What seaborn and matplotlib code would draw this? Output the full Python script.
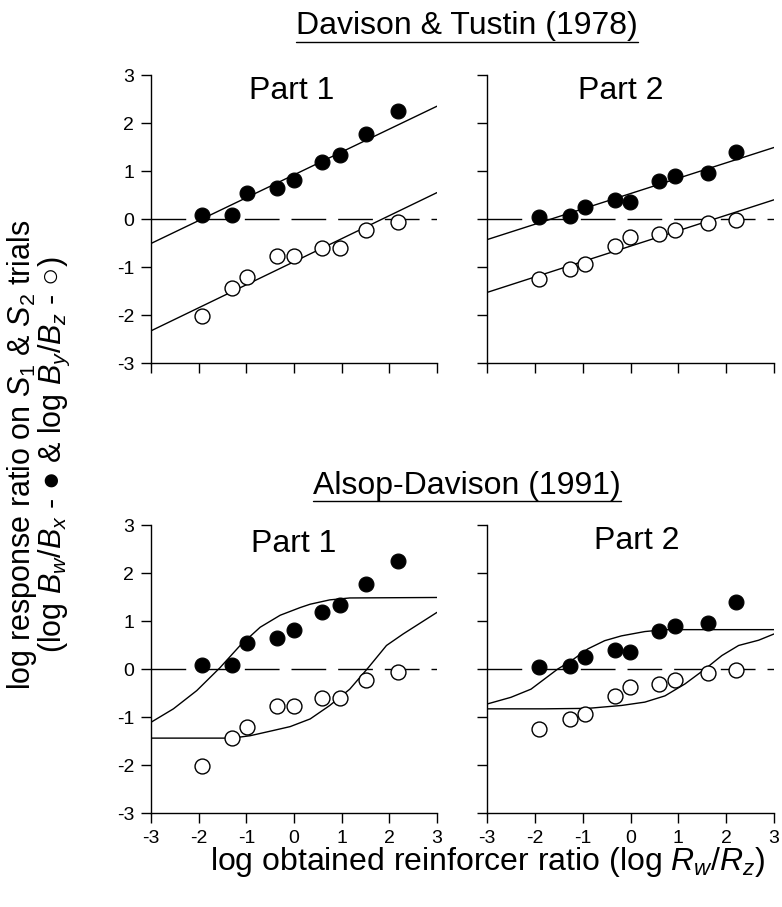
import numpy as np
import pandas as pd
import matplotlib.pyplot as plt
import seaborn as sns
from matplotlib.lines import Line2D

# Obtained reinforcer ratios (x) for each part
part1_x = [-1.92, -1.30, -0.99, -0.35, -0.01, 0.59, 0.96, 1.50, 2.19]
part2_x = [-1.92, -1.27, -0.96, -0.33, -0.02, 0.60, 0.94, 1.62, 2.20]

# Response ratios: filled = log Bw/Bx, open = log By/Bz
part1_filled = [0.08, 0.08, 0.55, 0.64, 0.81, 1.19, 1.34, 1.78, 2.24]
part1_open = [-2.03, -1.43, -1.20, -0.78, -0.78, -0.60, -0.61, -0.22, -0.07]
part2_filled = [0.05, 0.07, 0.26, 0.40, 0.36, 0.80, 0.90, 0.95, 1.40]
part2_open = [-1.25, -1.05, -0.94, -0.56, -0.37, -0.32, -0.22, -0.09, -0.02]

# Davison & Tustin (1978) fitted lines, end points
dt_x = [-3, 3]
dt_p1_filled = [-0.51, 2.35]
dt_p1_open = [-2.33, 0.55]
dt_p2_filled = [-0.43, 1.49]
dt_p2_open = [-1.53, 0.40]

# Alsop-Davison (1991) model curves
ad_p1_filled_x = [-3.0, -2.53, -2.04, -1.55, -1.13, -0.71, -0.29, 0.13, 0.34, 0.75, 1.17, 3.0]
ad_p1_filled_y = [-1.11, -0.83, -0.45, 0.03, 0.49, 0.87, 1.12, 1.28, 1.35, 1.44, 1.48, 1.49]
ad_p1_open_x = [-3.0, -1.30, -0.92, -0.43, -0.08, 0.34, 0.75, 1.17, 1.56, 1.94, 2.29, 3.0]
ad_p1_open_y = [-1.44, -1.44, -1.39, -1.28, -1.20, -1.04, -0.76, -0.42, 0.03, 0.49, 0.73, 1.18]
ad_p2_filled_x = [-3.0, -2.5, -2.08, -1.8, -1.52, -1.24, -0.89, -0.54, -0.19, 0.30, 0.72, 3.0]
ad_p2_filled_y = [-0.73, -0.59, -0.42, -0.21, 0.0, 0.17, 0.42, 0.59, 0.69, 0.78, 0.82, 0.82]
ad_p2_open_x = [-3.0, -1.8, -0.89, -0.19, 0.30, 0.72, 1.14, 1.56, 1.91, 2.26, 2.68, 3.0]
ad_p2_open_y = [-0.83, -0.83, -0.82, -0.76, -0.69, -0.56, -0.31, 0.0, 0.28, 0.49, 0.60, 0.73]

ticks = [-3, -2, -1, 0, 1, 2, 3]

sns.set_style("ticks", {"axes.edgecolor": "black", "xtick.color": "black",
                        "ytick.color": "black", "text.color": "black",
                        "axes.labelcolor": "black"})
plt.rcParams['font.family'] = ['Liberation Sans', 'DejaVu Sans']
plt.rcParams['mathtext.fontset'] = 'custom'
plt.rcParams['mathtext.rm'] = 'Liberation Sans'
plt.rcParams['mathtext.it'] = 'Liberation Sans:italic'
plt.rcParams['mathtext.bf'] = 'Liberation Sans:bold'
plt.rcParams['axes.unicode_minus'] = False

fig = plt.figure(figsize=(7.82, 9.07), dpi=100)
W, H = 782, 907


def add_ax(x0, x1, y0, y1):
    return fig.add_axes([x0 / W, 1 - y1 / H, (x1 - x0) / W, (y1 - y0) / H])


def panel(ax, x, filled, opened, lines, label, label_xy, xlabels, ylabels):
    ax.axhline(0, color='black', lw=1.0, ls=(0, (25, 8.6)), zorder=1)
    for lx, ly in lines:
        sns.lineplot(x=lx, y=ly, ax=ax, color='black', lw=1.0,
                     sort=False, estimator=None, zorder=2)
    sns.scatterplot(x=x, y=filled, ax=ax, color='black', edgecolor='black',
                    s=115, linewidth=0.8, zorder=3)
    sns.scatterplot(x=x, y=opened, ax=ax, color='white', edgecolor='black',
                    s=115, linewidth=1.0, zorder=3)
    ax.set_xlim(-3, 3)
    ax.set_ylim(-3, 3)
    ax.set_xticks(ticks)
    ax.set_yticks(ticks)
    ax.set_xticklabels([str(t) for t in ticks] if xlabels else [])
    ax.set_yticklabels([str(t) for t in ticks] if ylabels else [])
    ax.tick_params(length=7, width=1.0, labelsize=14, pad=5)
    for s in ['left', 'bottom']:
        ax.spines[s].set_linewidth(1.0)
    sns.despine(ax=ax)
    ax.set_xlabel('')
    ax.set_ylabel('')
    ax.text(label_xy[0], label_xy[1], label, ha='center', va='baseline',
            fontsize=23)


ax1 = add_ax(151, 437, 75, 363)
ax2 = add_ax(487, 774, 75, 363)
ax3 = add_ax(151, 437, 525, 813)
ax4 = add_ax(487, 774, 525, 813)

panel(ax1, part1_x, part1_filled, part1_open,
      [(dt_x, dt_p1_filled), (dt_x, dt_p1_open)], 'Part 1', (-0.05, 2.5), False, True)
panel(ax2, part2_x, part2_filled, part2_open,
      [(dt_x, dt_p2_filled), (dt_x, dt_p2_open)], 'Part 2', (-0.2, 2.5), False, False)
panel(ax3, part1_x, part1_filled, part1_open,
      [(ad_p1_filled_x, ad_p1_filled_y), (ad_p1_open_x, ad_p1_open_y)],
      'Part 1', (0.0, 2.44), True, True)
panel(ax4, part2_x, part2_filled, part2_open,
      [(ad_p2_filled_x, ad_p2_filled_y), (ad_p2_open_x, ad_p2_open_y)],
      'Part 2', (0.14, 2.49), True, False)

# Study titles, underlined
titles = []
titles.append((fig.text(467 / W, 1 - 34 / H, 'Davison & Tustin (1978)', ha='center',
                        va='baseline', fontsize=23), 1 - 42 / H))
titles.append((fig.text(467 / W, 1 - 494 / H, 'Alsop-Davison (1991)', ha='center',
                        va='baseline', fontsize=23), 1 - 501 / H))
fig.canvas.draw()
for t, uy in titles:
    bb = t.get_window_extent().transformed(fig.transFigure.inverted())
    fig.add_artist(Line2D([bb.x0, bb.x1], [uy, uy], transform=fig.transFigure,
                          color='black', lw=1.0))

# Axis labels
fig.text(22 / W, 1 - 455 / H, r'log response ratio on $S_1$ & $S_2$ trials',
         rotation=90, ha='center', va='center', fontsize=22)
fig.text(54 / W, 1 - 455 / H, r'(log $B_w/B_x$ - ● & log $B_y/B_z$ - ○)',
         rotation=90, ha='center', va='center', fontsize=22)
fig.text(488 / W, 1 - 870 / H, r'log obtained reinforcer ratio (log $R_w/R_z$)',
         ha='center', va='baseline', fontsize=23)

fig.savefig('out.png', dpi=100)
